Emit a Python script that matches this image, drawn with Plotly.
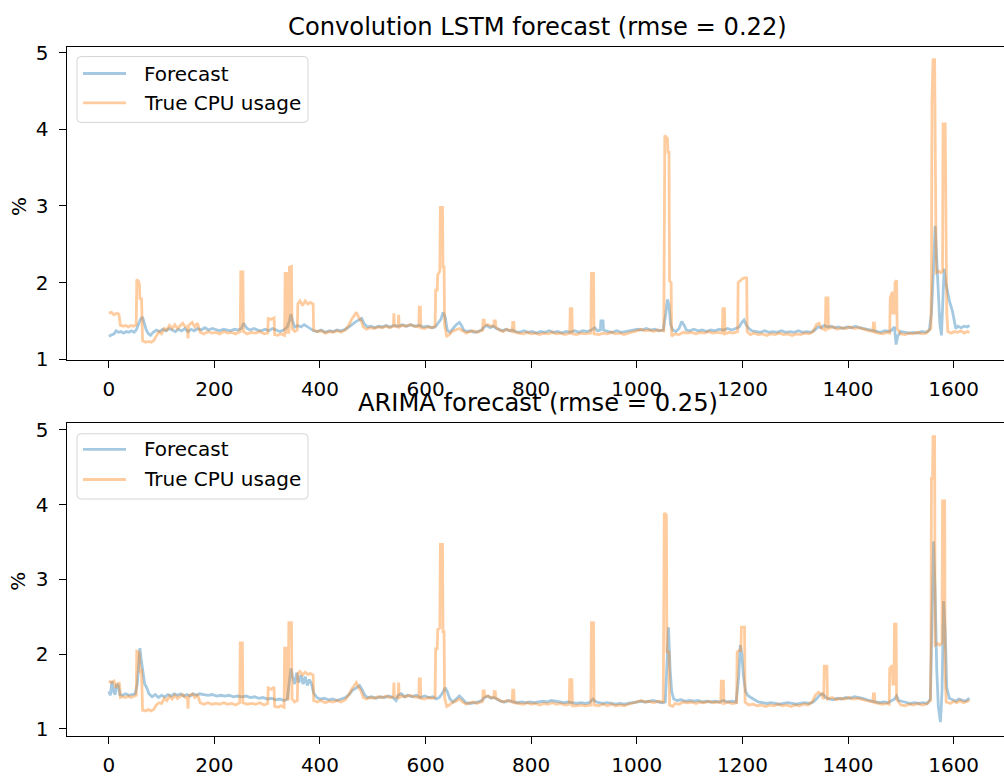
import plotly.graph_objects as go

# ---------------------------------------------------------------- data
# (time step, CPU usage %) pairs for each panel

lstm_true = [
    (0, 1.60), (5, 1.61), (10, 1.58), (15, 1.60), (19, 1.59), (22, 1.44), (27, 1.43), (32, 1.44),
    (37, 1.42), (42, 1.44), (47, 1.43), (52, 1.45), (53, 2.04), (56, 2.02), (58, 1.98), (59, 1.78),
    (62, 1.80), (63, 1.40), (64, 1.24), (70, 1.22), (75, 1.23), (80, 1.22), (85, 1.24), (90, 1.30),
    (95, 1.36), (100, 1.33), (105, 1.40), (110, 1.38), (115, 1.44), (120, 1.40), (125, 1.45),
    (130, 1.40), (135, 1.43), (140, 1.47), (145, 1.42), (149, 1.42), (150, 1.27), (151, 1.44),
    (158, 1.48), (163, 1.42), (168, 1.47), (173, 1.35), (180, 1.33), (188, 1.36), (195, 1.34),
    (203, 1.35), (210, 1.33), (218, 1.36), (225, 1.34), (233, 1.35), (240, 1.33), (249, 1.36),
    (250, 2.14), (254, 2.14), (255, 1.36), (262, 1.33), (270, 1.35), (278, 1.34), (286, 1.36),
    (294, 1.33), (301, 1.34), (302, 1.53), (308, 1.52), (313, 1.54), (314, 1.32), (320, 1.31),
    (326, 1.33), (333, 1.31), (334, 2.12), (337, 2.12), (338, 1.35), (341, 1.35), (342, 2.20),
    (346, 2.21), (347, 1.40), (352, 1.36), (357, 1.38), (358, 1.72), (362, 1.76), (367, 1.70),
    (372, 1.76), (377, 1.72), (382, 1.74), (387, 1.72), (388, 1.38), (395, 1.36), (402, 1.37),
    (410, 1.34), (418, 1.36), (425, 1.35), (432, 1.37), (440, 1.35), (448, 1.38), (455, 1.45),
    (460, 1.52), (465, 1.57), (469, 1.61), (473, 1.55), (478, 1.50), (482, 1.42), (488, 1.39),
    (495, 1.41), (502, 1.40), (510, 1.42), (518, 1.41), (525, 1.43), (532, 1.41), (539, 1.43),
    (540, 1.60), (541, 1.43), (545, 1.42), (548, 1.42), (549, 1.58), (550, 1.42), (556, 1.44),
    (562, 1.43), (570, 1.45), (578, 1.43), (587, 1.42), (588, 1.68), (590, 1.68), (591, 1.41),
    (598, 1.40), (605, 1.42), (612, 1.41), (618, 1.43), (619, 1.90), (622, 1.90), (623, 2.10),
    (627, 2.15), (628, 2.98), (632, 2.98), (633, 2.20), (635, 2.20), (636, 1.45), (640, 1.30),
    (645, 1.32), (650, 1.36), (657, 1.38), (664, 1.40), (670, 1.37), (677, 1.34), (684, 1.36),
    (690, 1.37), (697, 1.35), (708, 1.38), (709, 1.51), (711, 1.51), (712, 1.44), (718, 1.45),
    (724, 1.43), (729, 1.43), (730, 1.50), (732, 1.50), (733, 1.42), (740, 1.38), (747, 1.36),
    (754, 1.39), (764, 1.36), (765, 1.48), (767, 1.48), (768, 1.36), (776, 1.34), (785, 1.33),
    (793, 1.35), (800, 1.33), (808, 1.34), (816, 1.32), (824, 1.34), (832, 1.33), (840, 1.35),
    (848, 1.33), (856, 1.34), (864, 1.32), (873, 1.34), (874, 1.66), (877, 1.66), (878, 1.33),
    (886, 1.32), (894, 1.34), (902, 1.33), (913, 1.34), (914, 2.12), (918, 2.12), (919, 1.33),
    (928, 1.32), (936, 1.34), (944, 1.33), (952, 1.35), (960, 1.33), (968, 1.34), (976, 1.32),
    (984, 1.34), (992, 1.35), (1000, 1.37), (1008, 1.39), (1016, 1.37), (1024, 1.38),
    (1032, 1.36), (1040, 1.38), (1051, 1.37), (1052, 2.50), (1053, 3.92), (1058, 3.88),
    (1059, 3.70), (1061, 3.70), (1062, 2.02), (1065, 2.00), (1066, 1.30), (1072, 1.33),
    (1080, 1.32), (1088, 1.35), (1096, 1.34), (1104, 1.35), (1112, 1.33), (1120, 1.35),
    (1128, 1.34), (1136, 1.36), (1144, 1.34), (1152, 1.35), (1162, 1.34), (1163, 1.66),
    (1166, 1.66), (1167, 1.33), (1175, 1.35), (1183, 1.34), (1191, 1.36), (1192, 2.00),
    (1196, 2.03), (1200, 2.05), (1204, 2.06), (1208, 2.06), (1209, 1.36), (1215, 1.32),
    (1222, 1.34), (1230, 1.32), (1238, 1.33), (1246, 1.31), (1254, 1.33), (1262, 1.32),
    (1270, 1.34), (1278, 1.32), (1286, 1.33), (1294, 1.31), (1302, 1.33), (1310, 1.32),
    (1318, 1.34), (1326, 1.33), (1334, 1.36), (1340, 1.45), (1345, 1.47), (1350, 1.40),
    (1357, 1.38), (1358, 1.80), (1362, 1.80), (1363, 1.40), (1372, 1.42), (1380, 1.39),
    (1388, 1.41), (1396, 1.40), (1404, 1.42), (1412, 1.40), (1420, 1.41), (1428, 1.39),
    (1436, 1.38), (1447, 1.36), (1448, 1.47), (1450, 1.47), (1451, 1.35), (1458, 1.34),
    (1466, 1.33), (1474, 1.35), (1479, 1.34), (1480, 1.80), (1484, 1.88), (1485, 1.60),
    (1488, 1.60), (1489, 2.00), (1492, 2.03), (1493, 1.40), (1500, 1.33), (1508, 1.32),
    (1516, 1.34), (1524, 1.33), (1532, 1.35), (1540, 1.33), (1548, 1.34), (1557, 1.40),
    (1558, 2.00), (1559, 4.38), (1561, 4.91), (1564, 4.91), (1565, 3.50), (1567, 2.13),
    (1572, 2.15), (1576, 2.13), (1579, 2.15), (1580, 4.07), (1584, 4.07), (1585, 3.50),
    (1587, 1.60), (1589, 1.36), (1596, 1.34), (1602, 1.36), (1608, 1.35), (1614, 1.37),
    (1620, 1.34), (1626, 1.36), (1630, 1.35),
]

lstm_pred = [
    (0, 1.30), (5, 1.31), (10, 1.33), (14, 1.37), (18, 1.35), (23, 1.36), (28, 1.34), (33, 1.36),
    (38, 1.35), (43, 1.37), (48, 1.35), (52, 1.38), (56, 1.45), (60, 1.52), (64, 1.55), (67, 1.48),
    (71, 1.38), (75, 1.33), (79, 1.31), (84, 1.35), (90, 1.38), (96, 1.36), (102, 1.39), (108, 1.37),
    (114, 1.40), (120, 1.38), (126, 1.36), (132, 1.39), (138, 1.37), (144, 1.40), (150, 1.36),
    (156, 1.39), (162, 1.37), (168, 1.40), (175, 1.38), (182, 1.41), (189, 1.38), (196, 1.40),
    (203, 1.38), (210, 1.37), (217, 1.39), (224, 1.38), (231, 1.37), (238, 1.39), (245, 1.38),
    (251, 1.40), (255, 1.47), (258, 1.44), (262, 1.40), (268, 1.38), (275, 1.40), (282, 1.38),
    (289, 1.37), (296, 1.39), (303, 1.37), (310, 1.40), (317, 1.38), (324, 1.36), (331, 1.38),
    (338, 1.42), (342, 1.50), (345, 1.59), (348, 1.50), (352, 1.42), (358, 1.44), (364, 1.42),
    (370, 1.45), (376, 1.42), (382, 1.40), (388, 1.37), (395, 1.36), (402, 1.38), (410, 1.35),
    (418, 1.37), (425, 1.36), (432, 1.38), (440, 1.37), (448, 1.39), (455, 1.42), (462, 1.46),
    (468, 1.49), (474, 1.51), (479, 1.53), (484, 1.46), (490, 1.42), (497, 1.43), (504, 1.41),
    (511, 1.43), (518, 1.42), (525, 1.44), (532, 1.42), (540, 1.44), (548, 1.43), (556, 1.45),
    (564, 1.43), (572, 1.45), (580, 1.43), (588, 1.44), (596, 1.42), (604, 1.43), (612, 1.41),
    (618, 1.42), (624, 1.48), (629, 1.52), (633, 1.61), (637, 1.55), (641, 1.38), (646, 1.35),
    (652, 1.40), (658, 1.45), (664, 1.48), (668, 1.44), (672, 1.38), (678, 1.36), (685, 1.37),
    (692, 1.35), (699, 1.36), (706, 1.38), (711, 1.42), (716, 1.44), (722, 1.41), (728, 1.43),
    (734, 1.40), (740, 1.38), (746, 1.37), (752, 1.39), (758, 1.37), (764, 1.38), (770, 1.36),
    (778, 1.35), (786, 1.37), (794, 1.35), (802, 1.36), (810, 1.34), (818, 1.36), (826, 1.35),
    (834, 1.37), (842, 1.35), (850, 1.36), (858, 1.34), (866, 1.36), (874, 1.35), (882, 1.37),
    (890, 1.35), (898, 1.37), (906, 1.36), (914, 1.38), (920, 1.41), (926, 1.37), (931, 1.38),
    (932, 1.50), (936, 1.50), (937, 1.38), (946, 1.36), (954, 1.35), (962, 1.37), (970, 1.35),
    (978, 1.36), (986, 1.37), (994, 1.38), (1002, 1.39), (1010, 1.38), (1018, 1.40), (1026, 1.38),
    (1034, 1.39), (1042, 1.37), (1050, 1.38), (1055, 1.60), (1058, 1.78), (1061, 1.70),
    (1064, 1.45), (1068, 1.38), (1074, 1.36), (1080, 1.40), (1085, 1.49), (1089, 1.45),
    (1094, 1.38), (1100, 1.37), (1108, 1.39), (1116, 1.37), (1124, 1.38), (1132, 1.36),
    (1140, 1.38), (1148, 1.37), (1156, 1.39), (1164, 1.38), (1172, 1.40), (1180, 1.38),
    (1188, 1.40), (1194, 1.42), (1199, 1.48), (1203, 1.51), (1207, 1.45), (1212, 1.40),
    (1218, 1.37), (1226, 1.36), (1234, 1.35), (1242, 1.37), (1250, 1.35), (1258, 1.36),
    (1266, 1.35), (1274, 1.37), (1282, 1.35), (1290, 1.36), (1298, 1.35), (1306, 1.37),
    (1314, 1.35), (1322, 1.36), (1330, 1.35), (1337, 1.38), (1343, 1.42), (1349, 1.41),
    (1355, 1.44), (1361, 1.42), (1368, 1.43), (1375, 1.41), (1382, 1.42), (1390, 1.40),
    (1398, 1.42), (1406, 1.41), (1414, 1.43), (1422, 1.41), (1430, 1.40), (1438, 1.38),
    (1446, 1.37), (1454, 1.36), (1462, 1.35), (1470, 1.37), (1478, 1.36), (1483, 1.38),
    (1488, 1.42), (1491, 1.19), (1494, 1.30), (1500, 1.36), (1508, 1.35), (1516, 1.34),
    (1524, 1.35), (1532, 1.34), (1540, 1.36), (1548, 1.35), (1554, 1.38), (1558, 1.60),
    (1562, 2.20), (1565, 2.74), (1568, 2.30), (1571, 1.80), (1574, 1.45), (1577, 1.31),
    (1580, 1.90), (1582, 2.18), (1585, 2.00), (1588, 1.90), (1592, 1.76), (1598, 1.62),
    (1604, 1.40), (1608, 1.43), (1614, 1.41), (1620, 1.43), (1626, 1.42), (1630, 1.44),
]

arima_true = [
    (0, 1.64), (5, 1.62), (10, 1.64), (13, 1.55), (17, 1.60), (20, 1.62), (22, 1.42), (27, 1.43),
    (32, 1.42), (37, 1.44), (42, 1.42), (47, 1.43), (52, 1.45), (53, 2.04), (56, 2.03), (58, 2.00),
    (59, 1.77), (62, 1.78), (63, 1.40), (64, 1.25), (70, 1.24), (75, 1.26), (80, 1.24), (85, 1.26),
    (90, 1.32), (95, 1.35), (100, 1.34), (105, 1.41), (110, 1.38), (115, 1.44), (120, 1.40),
    (125, 1.45), (130, 1.41), (135, 1.43), (140, 1.46), (145, 1.42), (149, 1.42), (150, 1.27),
    (151, 1.44), (158, 1.47), (163, 1.42), (168, 1.46), (173, 1.35), (180, 1.33), (188, 1.35),
    (195, 1.33), (203, 1.34), (210, 1.33), (218, 1.35), (225, 1.33), (233, 1.34), (240, 1.32),
    (248, 1.35), (249, 2.15), (253, 2.15), (254, 1.35), (262, 1.33), (270, 1.34), (278, 1.33),
    (286, 1.35), (294, 1.32), (301, 1.34), (302, 1.55), (308, 1.53), (313, 1.56), (314, 1.30),
    (320, 1.29), (326, 1.31), (332, 1.29), (333, 2.08), (337, 2.08), (338, 1.40), (340, 1.40),
    (341, 2.42), (346, 2.42), (347, 1.40), (352, 1.36), (357, 1.38), (358, 1.74), (362, 1.77),
    (367, 1.72), (372, 1.76), (377, 1.73), (382, 1.74), (387, 1.72), (388, 1.38), (395, 1.36),
    (402, 1.38), (410, 1.35), (418, 1.37), (425, 1.36), (432, 1.38), (440, 1.36), (448, 1.39),
    (455, 1.46), (460, 1.53), (465, 1.58), (469, 1.62), (473, 1.56), (478, 1.50), (482, 1.42),
    (488, 1.40), (495, 1.42), (502, 1.41), (510, 1.43), (518, 1.42), (525, 1.44), (532, 1.42),
    (539, 1.43), (540, 1.62), (541, 1.43), (545, 1.42), (548, 1.42), (549, 1.62), (550, 1.42),
    (556, 1.44), (562, 1.43), (570, 1.45), (578, 1.43), (587, 1.42), (588, 1.67), (590, 1.67),
    (591, 1.41), (598, 1.40), (605, 1.42), (612, 1.41), (618, 1.42), (619, 2.07), (622, 2.07),
    (623, 2.33), (627, 2.35), (628, 3.47), (632, 3.47), (633, 2.30), (635, 2.30), (636, 1.42),
    (640, 1.30), (645, 1.32), (650, 1.35), (657, 1.37), (664, 1.40), (670, 1.36), (677, 1.33),
    (684, 1.35), (690, 1.36), (697, 1.34), (708, 1.37), (709, 1.51), (711, 1.51), (712, 1.43),
    (718, 1.44), (724, 1.42), (729, 1.42), (730, 1.50), (732, 1.50), (733, 1.41), (740, 1.38),
    (747, 1.36), (754, 1.38), (764, 1.36), (765, 1.52), (767, 1.52), (768, 1.35), (776, 1.34),
    (785, 1.33), (793, 1.35), (800, 1.33), (808, 1.34), (816, 1.32), (824, 1.34), (832, 1.33),
    (840, 1.35), (848, 1.33), (856, 1.34), (864, 1.32), (872, 1.33), (873, 1.66), (877, 1.66),
    (878, 1.31), (886, 1.31), (894, 1.32), (902, 1.31), (913, 1.32), (914, 2.42), (918, 2.42),
    (919, 1.32), (928, 1.31), (936, 1.33), (944, 1.31), (952, 1.33), (960, 1.31), (968, 1.32),
    (976, 1.31), (984, 1.33), (992, 1.34), (1000, 1.36), (1008, 1.38), (1016, 1.36),
    (1024, 1.37), (1032, 1.35), (1040, 1.37), (1050, 1.36), (1051, 2.50), (1052, 3.89),
    (1056, 3.86), (1057, 2.03), (1061, 2.03), (1062, 1.32), (1068, 1.30), (1072, 1.34),
    (1080, 1.33), (1088, 1.36), (1096, 1.35), (1104, 1.36), (1112, 1.34), (1120, 1.36),
    (1128, 1.35), (1136, 1.37), (1144, 1.35), (1152, 1.36), (1159, 1.35), (1160, 1.64),
    (1164, 1.64), (1165, 1.34), (1173, 1.36), (1180, 1.34), (1189, 1.35), (1190, 2.03),
    (1194, 2.05), (1197, 2.05), (1198, 2.36), (1204, 2.36), (1205, 1.36), (1212, 1.32),
    (1220, 1.33), (1228, 1.31), (1236, 1.32), (1244, 1.30), (1252, 1.32), (1260, 1.31),
    (1268, 1.33), (1276, 1.31), (1284, 1.32), (1292, 1.30), (1300, 1.32), (1308, 1.31),
    (1316, 1.33), (1324, 1.32), (1332, 1.36), (1338, 1.45), (1344, 1.49), (1349, 1.47),
    (1354, 1.40), (1355, 1.84), (1360, 1.84), (1361, 1.40), (1370, 1.42), (1378, 1.39),
    (1386, 1.41), (1394, 1.40), (1402, 1.42), (1410, 1.40), (1418, 1.41), (1426, 1.39),
    (1434, 1.38), (1447, 1.36), (1448, 1.47), (1450, 1.47), (1451, 1.35), (1458, 1.34),
    (1466, 1.33), (1474, 1.34), (1478, 1.33), (1479, 1.81), (1484, 1.85), (1485, 1.60),
    (1487, 1.60), (1488, 2.40), (1491, 2.40), (1492, 1.40), (1500, 1.32), (1508, 1.31),
    (1516, 1.33), (1524, 1.32), (1532, 1.34), (1540, 1.32), (1548, 1.33), (1556, 1.38),
    (1557, 2.00), (1558, 4.35), (1560, 4.35), (1561, 4.91), (1564, 4.91), (1565, 2.12),
    (1570, 2.14), (1574, 2.12), (1578, 2.15), (1579, 4.05), (1583, 4.05), (1584, 1.70),
    (1586, 1.36), (1594, 1.34), (1600, 1.37), (1606, 1.35), (1612, 1.38), (1618, 1.35),
    (1624, 1.37), (1630, 1.38),
]

arima_pred = [
    (0, 1.50), (3, 1.45), (6, 1.64), (9, 1.50), (12, 1.46), (15, 1.60), (18, 1.58), (21, 1.46),
    (26, 1.45), (32, 1.47), (38, 1.45), (44, 1.46), (50, 1.47), (54, 1.60), (57, 1.90), (59, 2.08),
    (61, 1.95), (64, 1.77), (68, 1.60), (72, 1.55), (76, 1.47), (82, 1.43), (88, 1.46), (94, 1.42),
    (100, 1.45), (106, 1.43), (112, 1.46), (118, 1.44), (124, 1.47), (130, 1.45), (136, 1.47),
    (142, 1.44), (148, 1.46), (154, 1.44), (160, 1.47), (166, 1.45), (172, 1.47), (180, 1.46),
    (188, 1.45), (196, 1.46), (204, 1.44), (212, 1.45), (220, 1.44), (228, 1.45), (236, 1.43),
    (244, 1.44), (252, 1.43), (260, 1.44), (268, 1.42), (276, 1.43), (284, 1.41), (292, 1.42),
    (300, 1.40), (308, 1.41), (316, 1.39), (324, 1.40), (332, 1.38), (338, 1.40), (342, 1.60),
    (345, 1.81), (348, 1.70), (352, 1.60), (356, 1.75), (360, 1.62), (364, 1.72), (368, 1.60),
    (372, 1.70), (376, 1.58), (380, 1.66), (384, 1.60), (388, 1.48), (394, 1.42), (400, 1.40),
    (408, 1.41), (416, 1.39), (424, 1.40), (432, 1.38), (440, 1.40), (448, 1.42), (455, 1.46),
    (462, 1.52), (469, 1.55), (475, 1.58), (480, 1.52), (485, 1.45), (490, 1.42), (498, 1.43),
    (506, 1.41), (514, 1.43), (522, 1.42), (530, 1.44), (538, 1.42), (544, 1.38), (548, 1.45),
    (554, 1.47), (560, 1.43), (566, 1.45), (574, 1.43), (582, 1.45), (590, 1.42), (598, 1.44),
    (606, 1.42), (614, 1.43), (620, 1.40), (626, 1.42), (632, 1.48), (637, 1.55), (641, 1.50),
    (646, 1.40), (652, 1.36), (658, 1.40), (664, 1.44), (670, 1.40), (676, 1.35), (684, 1.34),
    (692, 1.35), (700, 1.36), (706, 1.38), (712, 1.42), (718, 1.44), (724, 1.41), (730, 1.42),
    (736, 1.39), (742, 1.37), (750, 1.36), (758, 1.38), (766, 1.36), (774, 1.35), (782, 1.36),
    (790, 1.35), (798, 1.36), (806, 1.35), (814, 1.36), (822, 1.37), (830, 1.36), (838, 1.38),
    (846, 1.37), (854, 1.36), (862, 1.35), (870, 1.36), (878, 1.35), (886, 1.34), (894, 1.35),
    (902, 1.34), (910, 1.35), (917, 1.40), (921, 1.37), (928, 1.35), (936, 1.34), (944, 1.35),
    (952, 1.34), (960, 1.33), (968, 1.34), (976, 1.33), (984, 1.34), (992, 1.35), (1000, 1.36),
    (1008, 1.37), (1016, 1.36), (1024, 1.37), (1032, 1.38), (1040, 1.36), (1048, 1.35),
    (1054, 1.36), (1057, 1.80), (1060, 2.36), (1063, 1.80), (1066, 1.50), (1070, 1.40),
    (1076, 1.38), (1084, 1.39), (1092, 1.37), (1100, 1.38), (1108, 1.37), (1116, 1.38),
    (1124, 1.36), (1132, 1.37), (1140, 1.36), (1148, 1.37), (1156, 1.36), (1164, 1.38),
    (1172, 1.36), (1180, 1.37), (1188, 1.36), (1193, 1.70), (1196, 2.12), (1199, 2.00),
    (1202, 1.70), (1206, 1.50), (1210, 1.45), (1216, 1.42), (1222, 1.39), (1230, 1.36),
    (1238, 1.35), (1246, 1.34), (1254, 1.35), (1262, 1.34), (1270, 1.33), (1278, 1.34),
    (1286, 1.35), (1294, 1.34), (1302, 1.33), (1310, 1.34), (1318, 1.35), (1326, 1.34),
    (1334, 1.36), (1340, 1.40), (1346, 1.45), (1352, 1.47), (1358, 1.42), (1364, 1.40),
    (1372, 1.39), (1380, 1.41), (1388, 1.40), (1396, 1.42), (1404, 1.41), (1412, 1.43),
    (1420, 1.42), (1428, 1.41), (1436, 1.39), (1444, 1.37), (1452, 1.36), (1460, 1.35),
    (1468, 1.36), (1476, 1.35), (1482, 1.37), (1488, 1.40), (1492, 1.44), (1496, 1.38),
    (1502, 1.37), (1510, 1.35), (1518, 1.34), (1526, 1.35), (1534, 1.34), (1542, 1.35),
    (1550, 1.34), (1556, 1.40), (1559, 2.50), (1562, 3.51), (1565, 2.80), (1568, 1.80),
    (1571, 1.30), (1575, 1.09), (1578, 1.50), (1581, 2.71), (1584, 2.30), (1587, 1.55),
    (1592, 1.41), (1598, 1.39), (1604, 1.37), (1610, 1.40), (1616, 1.38), (1622, 1.37),
    (1628, 1.40), (1630, 1.41),
]

panel_titles = ["Convolution LSTM forecast (rmse = 0.22)", "ARIMA forecast (rmse = 0.25)"]
series_names = ["Forecast", "True CPU usage"]
x_ticks = [0, 200, 400, 600, 800, 1000, 1200, 1400, 1600]
y_ticks = [1, 2, 3, 4, 5]

# ---------------------------------------------------------------- styling
W, H = 1004, 782
FONT = "DejaVu Sans"
BLUE = "rgba(31,119,180,0.4)"
ORANGE = "rgba(255,127,14,0.4)"
LW = 2.8


def fx(p):
    return p / W


def fy(p):
    return 1 - p / H


fig = go.Figure()

panels = [
    (lstm_pred, lstm_true, "x", "y"),
    (arima_pred, arima_true, "x2", "y2"),
]
for pred, true, xa, ya in panels:
    fig.add_trace(go.Scatter(
        x=[p[0] for p in pred], y=[p[1] for p in pred], mode="lines",
        line=dict(color=BLUE, width=LW), name=series_names[0],
        xaxis=xa, yaxis=ya, showlegend=False, hoverinfo="skip"))
    fig.add_trace(go.Scatter(
        x=[p[0] for p in true], y=[p[1] for p in true], mode="lines",
        line=dict(color=ORANGE, width=LW), name=series_names[1],
        xaxis=xa, yaxis=ya, showlegend=False, hoverinfo="skip"))

axis_common = dict(
    showgrid=False, zeroline=False, showline=True, linecolor="black", linewidth=1.3,
    ticks="outside", ticklen=7, tickwidth=1.3, tickcolor="black",
    tickfont=dict(family=FONT, size=20, color="black"),
)
x_range = [-79.7, 1695.4]

fig.update_layout(
    width=W, height=H,
    margin=dict(l=0, r=0, t=0, b=0),
    paper_bgcolor="white", plot_bgcolor="white",
    xaxis=dict(domain=[fx(66.7), 1], anchor="y", range=x_range, tickvals=x_ticks,
               mirror=True, ticklabelstandoff=4, **axis_common),
    yaxis=dict(domain=[fy(361.7), fy(41.7)], anchor="x", range=[0.991, 5.077],
               tickvals=y_ticks, ticklabelstandoff=6, **axis_common),
    xaxis2=dict(domain=[fx(66.7), 1], anchor="y2", range=x_range, tickvals=x_ticks,
                mirror=True, ticklabelstandoff=4, **axis_common),
    yaxis2=dict(domain=[fy(746), fy(426)], anchor="x2", range=[0.908, 5.096],
                tickvals=y_ticks, ticklabelstandoff=6, **axis_common),
)

annotations = []
shapes = []

# panel titles and y-axis labels
for title, ty, ly in [(panel_titles[0], 21, 205), (panel_titles[1], 406, 588)]:
    annotations.append(dict(text=title, x=fx(537.5), y=fy(ty), xref="paper", yref="paper",
                            xanchor="center", yanchor="middle", showarrow=False,
                            font=dict(family=FONT, size=24.2, color="black")))
    annotations.append(dict(text="%", x=fx(18.5), y=fy(ly), xref="paper", yref="paper",
                            xanchor="center", yanchor="middle", showarrow=False, textangle=-90,
                            font=dict(family=FONT, size=20, color="black")))


def rounded_box(x0, y0, x1, y1, r):
    X0, X1 = fx(x0), fx(x1)
    Y0, Y1 = fy(y0), fy(y1)
    rx, ry = r / W, r / H
    return (f"M{X0 + rx},{Y0} L{X1 - rx},{Y0} Q{X1},{Y0} {X1},{Y0 - ry} "
            f"L{X1},{Y1 + ry} Q{X1},{Y1} {X1 - rx},{Y1} L{X0 + rx},{Y1} "
            f"Q{X0},{Y1} {X0},{Y1 + ry} L{X0},{Y0 - ry} Q{X0},{Y0} {X0 + rx},{Y0} Z")


# legend boxes, one per panel
for top, bottom, rows in [(51.7, 119, (69, 99)), (437.3, 504, (453.3, 484))]:
    shapes.append(dict(type="path", path=rounded_box(77, top, 308, bottom, 4),
                       xref="paper", yref="paper", fillcolor="rgba(255,255,255,0.8)",
                       line=dict(color="rgba(204,204,204,0.8)", width=1)))
    for name, color, ry in zip(series_names, (BLUE, ORANGE), rows):
        shapes.append(dict(type="line", x0=fx(83), x1=fx(126), y0=fy(ry), y1=fy(ry),
                           xref="paper", yref="paper", line=dict(color=color, width=LW)))
        annotations.append(dict(text=name, x=fx(141.7), y=fy(ry), xref="paper", yref="paper",
                                xanchor="left", yanchor="middle", showarrow=False,
                                font=dict(family=FONT, size=20, color="black")))

fig.update_layout(annotations=annotations, shapes=shapes)

fig.write_html("out.html")
